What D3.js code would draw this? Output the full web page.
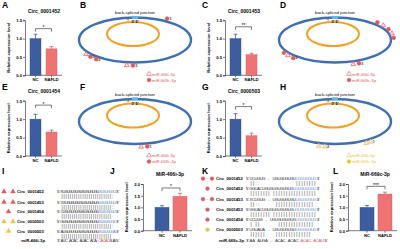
<!DOCTYPE html>
<html>
<head>
<meta charset="utf-8">
<script src="https://cdn.jsdelivr.net/npm/d3@7"></script>
<style>
  body { margin: 0; background: #fff; }
  svg { display: block; font-family: "Liberation Sans", Arial, sans-serif; }
</style>
</head>
<body>
<svg id="fig" width="400" height="249"></svg>
<script>
// ---- data ----
const groups = ["NC", "NAFLD"];

const circTitles = ["Circ_0001452", "Circ_0001453", "Circ_0001454", "Circ_0000503"];
const circMeans = [[1.0, 0.72], [1.0, 0.56], [1.0, 0.65], [1.0, 0.55]];
const circErrs = [[0.12, 0.06], [0.12, 0.04], [0.13, 0.05], [0.15, 0.07]];
const circStars = ["*", "**", "*", "*"];
const circStarLevel = [1.27, 1.32, 1.38, 1.34];
const circTicks = [0, 0.5, 1.0, 1.5];

const mirTitles = ["MiR-466i-3p", "MiR-669c-3p"];
const mirMeans = [[1.0, 1.47], [1.0, 1.57]];
const mirErrs = [[0.07, 0.13], [0.08, 0.08]];
const mirStars = ["*", "***"];
const mirStarLevel = [1.83, 1.9];
const mirTicks = [0, 0.5, 1.0, 1.5, 2.0];

// binding sites on each ring: angle on the ellipse (deg), t = miR-466i-3p, c = miR-669c-3p
const sitesB = [{a: -57, k: "c", n: "1"}, {a: 146, k: "t", n: ""}, {a: 139, k: "c", n: "5"}, {a: 131, k: "c", n: "2"}, {a: 98, k: "t", n: ""}, {a: 92, k: "c", n: "3"}];
const sitesD = [{a: 150, k: "c", n: ""}, {a: 143, k: "t", n: ""}, {a: 135, k: "c", n: "2"}, {a: 72, k: "t", n: ""}, {a: 66, k: "c", n: "3"},
                {a: -44, k: "c", n: ""}, {a: -35, k: "t", n: ""}, {a: -25, k: "c", n: ""}, {a: -15, k: "t", n: ""}, {a: -5, k: "c", n: ""}];
const sitesF = [{a: 84, k: "t", n: ""}, {a: 78, k: "c", n: "1"}];
const sitesH = [{a: 106, k: "t", n: ""}, {a: 100, k: "t", n: "2"}, {a: 58, k: "t", n: ""}, {a: 53, k: "t", n: "1"}];

// alignments
const iRows = [
  {mk: ["t", "~", "t"], col: "red", name: "Circ_0001452", seq: "KUGUGUGUGUGUGUGUGU", tail: "GUGUGUGU", pair: "||||||||||||||||||||||||:"},
  {mk: ["t", "~", "t"], col: "red", name: "Circ_0001453", seq: "XXUGUGUGUGUGUGUGUG", tail: "UGUGUGUU", pair: "||||||||||||||||||||||||:"},
  {mk: ["t"], col: "red", name: "Circ_0001454", seq: "CUGUGUGUGUGUGUGUGU", tail: "GUGUGUGU", pair: "|||||||||||||||||||||||| "},
  {mk: ["t", "~", "t"], col: "yel", name: "Circ_0000503", seq: "GUGUGUGUGUGUGUGUGU", tail: "GUGUGUGX", pair: "||||||||||||||||||||||||:"},
  {mk: ["t"], col: "yel", name: "Circ_0000503", seq: "AUGUGUGUGUGUGUGUGU", tail: "GUGUGUGA", pair: "|||||||||||||||||||||||| "}
];
const iMir = {name: "miR-466i-3p", seq: "AUC ACAC AUAC ACA ", hot: "CACACA", tail: "UA"};

const kRows = [
  {mk: ["c", "~", "c"], col: "red", name: "Circ_0001452", seq: "UCUGUG - UGUGUGUGU", tail: "UGUGUGUG", pair: "||::              |||||||| "},
  {mk: ["c"], col: "red", name: "Circ_0001452", seq: "GGUACUGUGUGUGUGUG", tail: "UGUGUGUGU", pair: "|||||||| |||||||||||||||||"},
  {mk: ["c", "~", "c"], col: "red", name: "Circ_0001453", seq: "XCUGUG - UGUGUGUGU", tail: "UGUGUGUG", pair: "||::      ||||||||||||||| "},
  {mk: ["c"], col: "red", name: "Circ_0001453", seq: "GGUACUGUGUGUGUGUG", tail: "UGUGUGUGU", pair: "|||||||| |||||||||||||||||"},
  {mk: ["c"], col: "red", name: "Circ_0001454", seq: "UCUUG - UGUGUGUGUG", tail: "UGUGUGUG", pair: "| ||       |||||||||||||| "},
  {mk: ["c"], col: "yel", name: "Circ_0000503", seq: "UGUAUA - UGUGUGUGU", tail: "UGUGUGUG", pair: "||||||    |||||||||||||| "}
];
const kMir = {name: "miR-669c-3p", seq: "AA AUGA - ACAC ACAC ", hot: "ACAC ACAU", tail: ""};

// ---- styling ----
const BLUE = "#3c5e9e", PINK = "#ef7373", RING = "#3f6fb3", ORANGE = "#f0a126";
const RED = "#dd5a5f", YEL = "#e6c445", SEQBLUE = "#6f93d3";
const svg = d3.select("#fig");

function letter(t, x, y) {
  svg.append("text").attr("x", x).attr("y", y).attr("font-size", 8.5)
    .attr("font-weight", "bold").text(t);
}

function barPanel(o) {
  const g = svg.append("g");
  const y = d3.scaleLinear().domain([0, o.max]).range([o.y0, o.y1]);
  const x = d3.scaleBand().domain(groups).range(o.band).paddingInner(o.pin).paddingOuter(0);

  const ya = g.append("g").attr("transform", `translate(${o.x0},0)`)
    .call(d3.axisLeft(y).tickValues(o.ticks).tickFormat(d3.format(".1f")).tickSize(2).tickPadding(1));
  ya.selectAll("text").attr("font-size", 4.2).attr("font-weight", "bold");
  ya.selectAll("line,path").attr("stroke", "#222").attr("stroke-width", 0.6);

  const xa = g.append("g").attr("transform", `translate(0,${o.y0})`)
    .call(d3.axisBottom(x).tickSize(2).tickPadding(1.2));
  xa.select(".domain").remove();
  xa.selectAll("text").attr("font-size", 4.2).attr("font-weight", "bold");
  xa.selectAll("line").attr("stroke", "#222").attr("stroke-width", 0.6);
  g.append("line").attr("x1", o.x0).attr("x2", o.x1).attr("y1", o.y0).attr("y2", o.y0)
    .attr("stroke", "#222").attr("stroke-width", 0.6);

  const rows = groups.map((k, i) => ({k, m: o.means[i], e: o.errs[i], c: i ? PINK : BLUE}));
  g.selectAll("rect.bar").data(rows).enter().append("rect")
    .attr("x", d => x(d.k)).attr("width", x.bandwidth())
    .attr("y", d => y(d.m)).attr("height", d => y(0) - y(d.m))
    .attr("fill", d => d.c).attr("stroke", d => d3.color(d.c).darker(0.6)).attr("stroke-width", 0.4);

  const cx = d => x(d.k) + x.bandwidth() / 2;
  g.selectAll("line.err").data(rows).enter().append("line")
    .attr("x1", cx).attr("x2", cx).attr("y1", d => y(d.m)).attr("y2", d => y(d.m + d.e))
    .attr("stroke", d => d3.color(d.c).darker(0.8)).attr("stroke-width", 0.7);
  g.selectAll("line.cap").data(rows).enter().append("line")
    .attr("x1", d => cx(d) - 2).attr("x2", d => cx(d) + 2)
    .attr("y1", d => y(d.m + d.e)).attr("y2", d => y(d.m + d.e))
    .attr("stroke", d => d3.color(d.c).darker(0.8)).attr("stroke-width", 0.7);

  const ys = y(o.sig), xa1 = cx(rows[0]), xa2 = cx(rows[1]);
  g.append("path").attr("d", `M${xa1},${ys + 3}V${ys}H${xa2}V${ys + 3}`)
    .attr("fill", "none").attr("stroke", "#222").attr("stroke-width", 0.6);
  g.append("text").attr("x", (xa1 + xa2) / 2).attr("y", ys + 0.5).attr("text-anchor", "middle")
    .attr("font-size", 5).text(o.star);

  g.append("text").attr("x", o.tx).attr("y", o.ty).attr("text-anchor", "middle")
    .attr("font-size", 5).attr("font-weight", "bold").text(o.title);
  g.append("text").attr("transform", `translate(${o.x0 - 15},${(o.y0 + o.y1) / 2}) rotate(-90)`)
    .attr("text-anchor", "middle").attr("font-size", 4.2).attr("font-weight", "bold")
    .text("Relative expression level");
}

const symT = d3.symbol().type(d3.symbolTriangle).size(10)();
const symC = d3.symbol().type(d3.symbolCircle).size(11)();

function ringPanel(cx, cy, sites, col, legendKinds) {
  const g = svg.append("g");
  const rx = 56, ry = 22.5;
  g.append("ellipse").attr("cx", cx - 2).attr("cy", cy - 6).attr("rx", 26).attr("ry", 12)
    .attr("fill", "none").attr("stroke", ORANGE).attr("stroke-width", 2);
  g.append("path").attr("d", `M${cx - 9},${cy - 20.5}l3,-1.6v3.2z`).attr("fill", ORANGE);
  g.append("ellipse").attr("cx", cx).attr("cy", cy).attr("rx", rx).attr("ry", ry)
    .attr("fill", "none").attr("stroke", RING).attr("stroke-width", 2.4);
  g.append("rect").attr("x", cx - 3).attr("y", cy - ry - 1.6).attr("width", 6).attr("height", 3.2)
    .attr("fill", "#63b7e6");
  g.append("text").attr("x", cx).attr("y", cy - ry - 3.5).attr("text-anchor", "middle")
    .attr("font-size", 4.3).text("back-spliced junction");
  g.append("text").attr("x", cx).attr("y", cy - ry + 5.8).attr("text-anchor", "middle")
    .attr("font-size", 3.8).attr("font-weight", "bold").text("3'  5'");

  const pos = d => {
    const t = d.a * Math.PI / 180;
    return [cx + (rx + 3) * Math.cos(t), cy + (ry + 3) * Math.sin(t)];
  };
  const s = g.selectAll("g.site").data(sites).enter().append("g")
    .attr("transform", d => `translate(${pos(d)})`);
  s.append("path").attr("d", d => d.k === "t" ? symT : symC)
    .attr("fill", d => d.k === "t" ? "#fbe3e3" : col).attr("stroke", col).attr("stroke-width", 0.7);
  s.append("text").attr("x", 2.3).attr("y", 1.4).attr("font-size", 3.8).attr("fill", "#444")
    .attr("font-weight", "bold").text(d => d.n);

  const lg = g.selectAll("g.leg").data(legendKinds).enter().append("g")
    .attr("transform", (d, i) => `translate(${cx + 14},${cy + 34 + i * 6})`);
  lg.append("path").attr("d", d => d.k === "t" ? symT : symC)
    .attr("fill", d => d.k === "t" ? "#fff" : col).attr("stroke", col).attr("stroke-width", 0.6);
  lg.append("text").attr("x", 3).attr("y", 1.5).attr("font-size", 4.2).attr("fill", col).text(d => d.name);
}

function charRow(g, str, x, y, pitch, fill, size) {
  g.append("g").selectAll("text").data(str.split("")).enter().append("text")
    .attr("x", (d, i) => x + i * pitch).attr("y", y).attr("font-size", size)
    .attr("text-anchor", "middle").attr("fill", fill).text(d => d);
}

function alignPanel(rows, mir, o) {
  const g = svg.append("g");
  rows.forEach((r, i) => {
    const y = o.ys[i];
    const mc = r.col === "red" ? RED : YEL;
    r.mk.forEach((m, j) => {
      const mx = o.mkx + (r.mk.length === 1 ? 4.5 : j * 4.5);
      if (m === "~") {
        g.append("text").attr("x", mx).attr("y", y).attr("text-anchor", "middle")
          .attr("font-size", 4).attr("fill", mc).text("~");
      } else {
        g.append("path").attr("transform", `translate(${mx},${y - 1.4})`)
          .attr("d", m === "t" ? symT : symC).attr("fill", mc).attr("stroke", mc).attr("stroke-width", 0.4);
      }
    });
    g.append("text").attr("x", o.nameX).attr("y", y).attr("font-size", 4.2)
      .attr("font-weight", "bold").text(r.name);
    g.append("text").attr("x", o.seqX).attr("y", y).attr("font-size", 4.2).text("5'");
    charRow(g, r.seq, o.seqX + 5, y, o.pitch, "#333", 4.2);
    charRow(g, r.tail, o.seqX + 5 + r.seq.length * o.pitch, y, o.pitch, SEQBLUE, 4.2);
    g.append("text").attr("x", o.seqX + 4.5 + (r.seq.length + r.tail.length) * o.pitch).attr("y", y)
      .attr("font-size", 4.2).text("3'");
    charRow(g, r.pair, o.seqX + 5, y + 5, o.pitch, "#222", 4.6);
  });
  const y = o.mirY;
  g.append("text").attr("x", o.nameX + 28).attr("y", y).attr("text-anchor", "end")
    .attr("font-size", 4.2).attr("font-weight", "bold").text(mir.name);
  g.append("text").attr("x", o.seqX).attr("y", y).attr("font-size", 4.2).text("3'");
  charRow(g, mir.seq, o.seqX + 5, y, o.pitch, "#333", 4.2);
  charRow(g, mir.hot, o.seqX + 5 + mir.seq.length * o.pitch, y, o.pitch, RED, 4.2);
  const n = mir.seq.length + mir.hot.length;
  charRow(g, mir.tail, o.seqX + 5 + n * o.pitch, y, o.pitch, "#333", 4.2);
  g.append("text").attr("x", o.seqX + 4.5 + (n + mir.tail.length) * o.pitch).attr("y", y)
    .attr("font-size", 4.2).text("5'");
}

// ---- panels ----
const rowY = [[75.3, 20.2], [156, 100.7]];
circTitles.forEach((t, i) => {
  const col = i % 2, row = Math.floor(i / 2), dx = col * 200;
  barPanel({
    x0: 25 + dx, x1: 62 + dx, band: [30 + dx, 57 + dx], pin: 0.3125,
    y0: rowY[row][0], y1: rowY[row][1], max: 1.5, ticks: circTicks,
    means: circMeans[i], errs: circErrs[i], sig: circStarLevel[i], star: circStars[i],
    title: t, tx: 44 + dx, ty: rowY[row][1] - 7.5
  });
});
mirTitles.forEach((t, i) => {
  const dx = i * 205;
  barPanel({
    x0: 143 + dx, x1: 192 + dx, band: [155 + dx, 187 + dx], pin: 0.22,
    y0: 230.7, y1: 184, max: 2.0, ticks: mirTicks,
    means: mirMeans[i], errs: mirErrs[i], sig: mirStarLevel[i], star: mirStars[i],
    title: t, tx: 170 + dx, ty: 176
  });
});

const legBoth = [{k: "t", name: "miR-466i-3p"}, {k: "c", name: "miR-669c-3p"}];
ringPanel(135, 40, sitesB, RED, legBoth);
ringPanel(335, 40, sitesD, RED, legBoth);
ringPanel(135, 121.5, sitesF, RED, legBoth);
ringPanel(335, 121.5, sitesH, YEL, legBoth);

alignPanel(iRows, iMir, {mkx: 4, nameX: 17, seqX: 57, pitch: 2.1, ys: [193, 203.5, 213, 223, 232.5], mirY: 241.5});
alignPanel(kRows, kMir, {mkx: 203, nameX: 216, seqX: 246, pitch: 2.55, ys: [180, 190, 200.5, 211, 221, 231], mirY: 241.5});

[["A", 2, 8], ["B", 80, 8], ["C", 202, 8], ["D", 280, 8],
 ["E", 2, 90], ["F", 80, 90], ["G", 202, 90], ["H", 280, 90],
 ["I", 2, 174], ["J", 110, 174], ["K", 202, 174], ["L", 333, 174]].forEach(d => letter(...d));
</script>
</body>
</html>
